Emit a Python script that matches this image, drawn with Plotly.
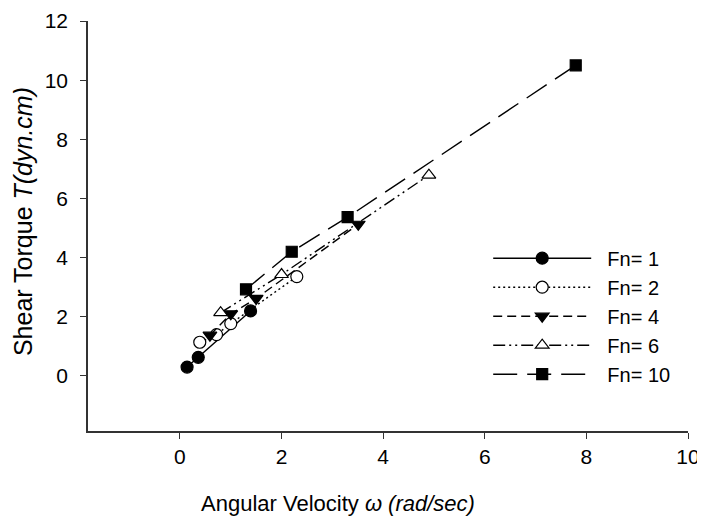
import plotly.graph_objects as go

# Shear torque vs angular velocity for several normal forces
fn1_x = [0.14, 0.36, 1.39]
fn1_y = [0.30, 0.63, 2.20]
fn2_x = [0.39, 0.72, 1.00, 2.30]
fn2_y = [1.14, 1.40, 1.77, 3.36]
fn4_x = [0.59, 1.00, 1.50, 3.51]
fn4_y = [1.38, 2.10, 2.62, 5.13]
fn6_x = [0.80, 2.00, 4.90]
fn6_y = [2.14, 3.43, 6.79]
fn10_x = [1.30, 2.20, 3.30, 7.79]
fn10_y = [2.93, 4.20, 5.37, 10.50]

names = ['Fn= 1', 'Fn= 2', 'Fn= 4', 'Fn= 6', 'Fn= 10']
xs = [fn1_x, fn2_x, fn4_x, fn6_x, fn10_x]
ys = [fn1_y, fn2_y, fn4_y, fn6_y, fn10_y]
dashes = ['solid', '2px,3px', '9px,5px', '12px,4px,2px,4px,2px,4px', '24px,10px']
symbols = ['circle', 'circle', 'triangle-down', 'triangle-up', 'square']
fills = ['black', 'white', 'black', 'white', 'black']
sizes = [12, 12, 12, 12, 11]

FONT = 'Arial, Liberation Sans, sans-serif'
PAD = '\u00a0\u00a0'

fig = go.Figure()
for x, y, nm, d, s, fc, sz in zip(xs, ys, names, dashes, symbols, fills, sizes):
    fig.add_trace(go.Scatter(
        x=x, y=y, name=PAD + nm, mode='lines+markers',
        line=dict(color='black', width=1.4, dash=d),
        marker=dict(symbol=s, size=sz, color=fc,
                    line=dict(color='black', width=1.2)),
    ))

# axis titles as annotations so they can sit where the original has them
fig.add_annotation(text='Angular Velocity <i>ω (rad/sec)</i>',
                   xref='paper', yref='paper', x=0.416, y=-0.176,
                   xanchor='center', yanchor='middle', showarrow=False,
                   font=dict(size=22))
fig.add_annotation(text='Shear Torque <i>T(dyn.cm)</i>', textangle=-90,
                   xref='paper', yref='paper', x=-0.108, y=0.51,
                   xanchor='center', yanchor='middle', showarrow=False,
                   font=dict(size=25))

# page body adds an 8px offset, so the figure is sized to fit the window
fig.update_layout(
    width=697, height=520,
    margin=dict(l=80, r=17, t=13, b=97),
    plot_bgcolor='white', paper_bgcolor='white',
    font=dict(family=FONT, size=21, color='black'),
    showlegend=True,
    legend=dict(x=0.667, y=0.28, xanchor='left', yanchor='middle',
                itemwidth=98, tracegroupgap=0,
                font=dict(family=FONT, size=20),
                bgcolor='rgba(0,0,0,0)'),
    xaxis=dict(range=[-1.81, 10], tickvals=[0, 2, 4, 6, 8, 10],
               showline=True, linecolor='#333', linewidth=1.5,
               ticks='outside', ticklen=6, tickcolor='#333',
               showgrid=False, zeroline=False, automargin=False,
               tickfont=dict(size=21), ticklabeloverflow='allow'),
    yaxis=dict(range=[-1.86, 12], tickvals=[0, 2, 4, 6, 8, 10, 12],
               showline=True, linecolor='#333', linewidth=1.5,
               ticks='outside', ticklen=6, tickcolor='#333',
               showgrid=False, zeroline=False, automargin=False,
               tickfont=dict(size=21), ticklabelstandoff=8,
               ticklabeloverflow='allow'),
)

fig.write_html("out.html")
